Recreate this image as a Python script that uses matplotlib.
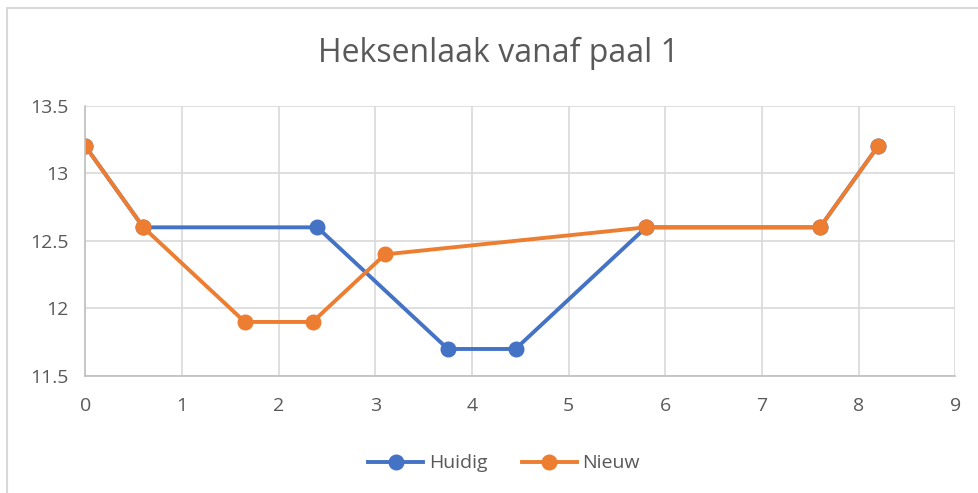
import matplotlib.pyplot as plt
from matplotlib.patches import Rectangle

plt.rcParams['font.family'] = ['Open Sans', 'DejaVu Sans']

# afstand vanaf paal 1 en hoogte
x_huidig = [0, 0.6, 2.4, 3.75, 4.45, 5.8, 7.6, 8.2]
y_huidig = [13.2, 12.6, 12.6, 11.7, 11.7, 12.6, 12.6, 13.2]
x_nieuw = [0, 0.6, 1.65, 2.35, 3.1, 5.8, 7.6, 8.2]
y_nieuw = [13.2, 12.6, 11.9, 11.9, 12.4, 12.6, 12.6, 13.2]

blue = '#4472C4'
orange = '#ED7D31'
grey = '#595959'
grid = '#D9D9D9'

fig = plt.figure(figsize=(9.79, 4.93), dpi=100)
ax = fig.add_axes([0.0872, 0.2373, 0.8886, 0.5483])

ax.plot(x_huidig, y_huidig, color=blue, lw=2.8, marker='o', ms=10.5, label='Huidig')
ax.plot(x_nieuw, y_nieuw, color=orange, lw=2.8, marker='o', ms=10.5, label='Nieuw')

ax.set_xlim(0, 9)
ax.set_ylim(11.5, 13.5)
ax.set_xticks(range(0, 10))
ax.set_yticks([11.5, 12, 12.5, 13, 13.5])
ax.set_yticklabels(['11.5', '12', '12.5', '13', '13.5'])
ax.grid(True, color=grid, lw=1.2)
ax.set_axisbelow(True)
for s in ['top', 'right']:
    ax.spines[s].set_visible(False)
for s in ['left', 'bottom']:
    ax.spines[s].set_color('#BFBFBF')
    ax.spines[s].set_linewidth(1.2)
ax.tick_params(length=0, labelsize=14, labelcolor=grey)
ax.tick_params(axis='x', pad=15)
ax.tick_params(axis='y', pad=12)

fig.suptitle('Heksenlaak vanaf paal 1', fontsize=23, color=grey, x=0.509, y=0.925)
fig.legend(loc='center', bbox_to_anchor=(0.515, 0.06), ncol=2, frameon=False,
           fontsize=14, labelcolor=grey, handlelength=2.8, columnspacing=1.8,
           handletextpad=0.3)

# rand van de grafiek
fig.patches.append(Rectangle((7 / 979, -0.1), 1.2, 1 - 8 / 493 + 0.1,
                             transform=fig.transFigure, fill=False,
                             edgecolor='#D9D9D9', lw=1.5))

fig.savefig('out.png', dpi=100)
